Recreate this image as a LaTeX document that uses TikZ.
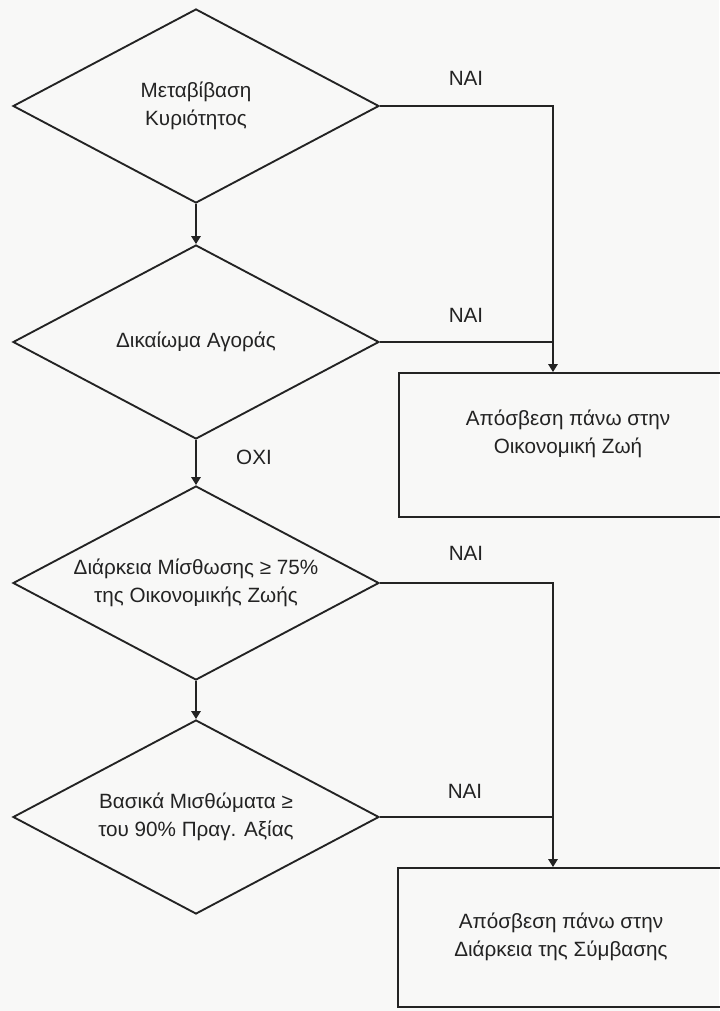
\documentclass[tikz,border=0pt]{standalone}
\usepackage{fontspec}
\setmainfont{Liberation Sans}
\usetikzlibrary{shapes.geometric,arrows.meta}
\definecolor{bg}{RGB}{248,248,247}
\definecolor{ink}{RGB}{35,35,35}
\begin{document}
\begin{tikzpicture}[x=0.75pt,y=-0.75pt,
  txt/.style={font=\fontsize{15.5}{20.5}\selectfont, text=ink, align=center, inner sep=0pt},
  decision/.style={diamond, draw=ink, line width=1.4pt, inner sep=0pt,
    minimum width=274.5pt, minimum height=145.5pt},
  result/.style={rectangle, draw=ink, line width=1.4pt, inner sep=0pt},
  ln/.style={draw=ink, line width=1.4pt},
  arr/.style={ln, -{Triangle[length=6pt,width=7pt]}}]
\fill[bg] (0,0) rectangle (719,1011);
\useasboundingbox (0,0) rectangle (719,1011);

\node[decision] (d1) at (196,106) {};
\node[decision] (d2) at (196,342) {};
\node[decision] (d3) at (196,583) {};
\node[decision] (d4) at (196,817) {};
\node[txt] (t1) at (d1) {Μεταβίβαση\\Κυριότητος};
\node[txt] (t2) at (d2) {Δικαίωμα Αγοράς};
\node[txt] (t3) at (d3) {Διάρκεια Μίσθωσης ≥ 75\%\\της Οικονομικής Ζωής};
\node[txt] (t4) at (d4) {Βασικά Μισθώματα ≥\\του 90\% Πραγ. Αξίας};

\node[result, minimum width=254.25pt, minimum height=108pt] (b1) at (568.5,445) {};
\node[result, minimum width=244.5pt, minimum height=104.25pt] (b2) at (561,937.5) {};
\node[txt] (tb1) at (568,434) {Απόσβεση πάνω στην\\Οικονομική Ζωή};
\node[txt] (tb2) at (561,937) {Απόσβεση πάνω στην\\Διάρκεια της Σύμβασης};

\coordinate (j1) at (553,101);
\coordinate (j2) at (553,577);

\draw[arr] (d1.south) -- (d2.north);
\draw[arr] (d2.south) -- (d3.north);
\draw[arr] (d3.south) -- (d4.north);

\draw[arr] (d1.east) -- (d1.east -| j1) -- (j1 |- b1.north);
\draw[ln] (d2.east) -- (d2.east -| j1);
\draw[arr] (d3.east) -- (d3.east -| j2) -- (j2 |- b2.north);
\draw[ln] (d4.east) -- (d4.east -| j2);

\node[txt] (y1) at (466,78) {ΝΑΙ};
\node[txt] (y2) at (466,315) {ΝΑΙ};
\node[txt] (y3) at (466,553) {ΝΑΙ};
\node[txt] (y4) at (465,791) {ΝΑΙ};
\node[txt] (n2) at (254,457) {ΟΧΙ};
\end{tikzpicture}
\end{document}
